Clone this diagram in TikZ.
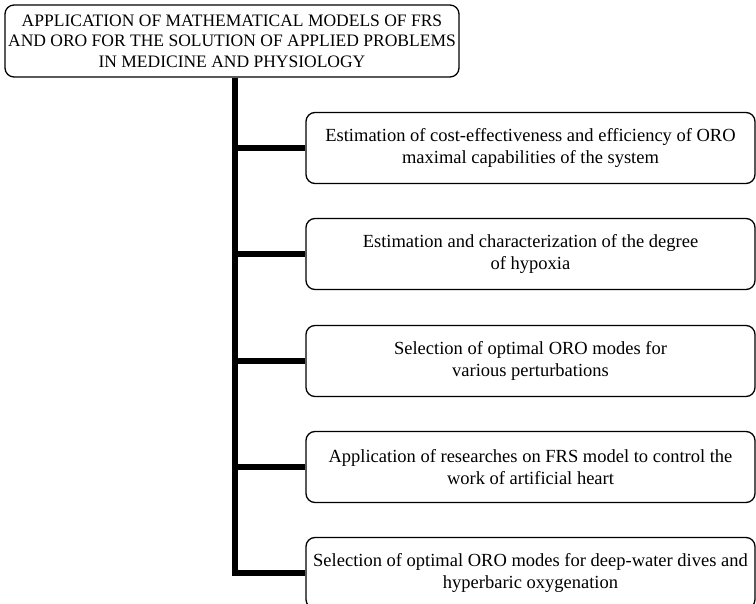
\documentclass[tikz,border=0pt]{standalone}
\usepackage{fontspec}
\setmainfont{Liberation Serif}
\usetikzlibrary{positioning}

\begin{document}
\begin{tikzpicture}[x=1pt,y=-1pt,
		box/.style={draw,line width=1.3pt,rounded corners=9pt,align=center,
			minimum width=449pt,minimum height=71pt,inner sep=0pt,
			font=\fontsize{18.5}{22}\selectfont},
		trunk/.style={line width=5.5pt}]
	\useasboundingbox (0,0) rectangle (756,604);
	% main node
	\node[box,minimum width=454pt,minimum height=72pt,
		font=\fontsize{17.5}{20.5}\selectfont] (app) at (232,41)
		{APPLICATION OF MATHEMATICAL MODELS OF FRS\\
		AND ORO FOR THE SOLUTION OF APPLIED PROBLEMS\\
		IN MEDICINE AND PHYSIOLOGY};
	% applied problems
	\node[box] (cost) at (530.5,148) {Estimation of cost-effectiveness and efficiency of ORO\\
		maximal capabilities of the system};
	\node[box] (hyp) at (530.5,254) {Estimation and characterization of the degree\\
		of hypoxia};
	\node[box] (pert) at (530.5,361) {Selection of optimal ORO modes for\\
		various perturbations};
	\node[box] (heart) at (530.5,467) {Application of researches on FRS model to control the\\
		work of artificial heart};
	\node[box] (dive) at (530.5,573) {Selection of optimal ORO modes for deep-water dives and\\
		hyperbaric oxygenation};
	% tree
	\coordinate (top) at ([xshift=3pt]app.south);
	\draw[trunk] (top) |- (dive.west);
	\foreach \b in {cost,hyp,pert,heart}
		\draw[trunk] (top |- \b.west) -- (\b.west);
\end{tikzpicture}
\end{document}
